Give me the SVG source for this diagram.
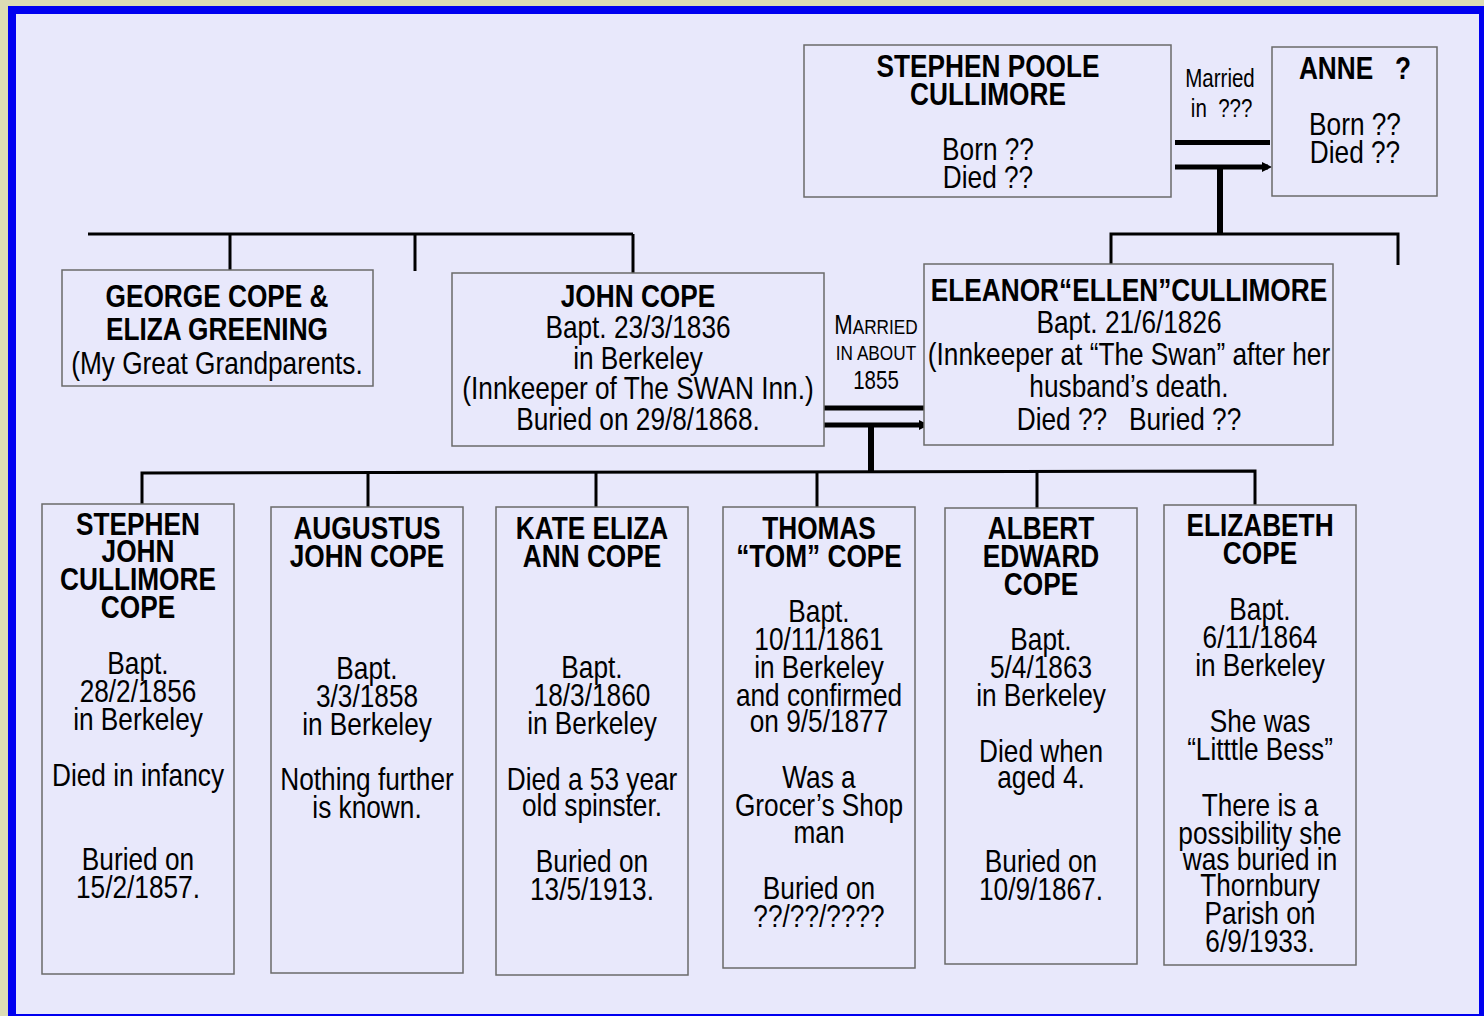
<svg xmlns="http://www.w3.org/2000/svg" width="1484" height="1016" viewBox="0 0 1484 1016">
<defs>
<style>
.box{fill:#e8e8fb;stroke:#6a6a6a;stroke-width:1.5}
text{font-family:"Liberation Sans",Arial,sans-serif;fill:#000;text-anchor:middle}
.n{font-size:32px;font-weight:bold}
.t{font-size:32px}
.s{font-size:25px}
.ln{stroke:#000;stroke-width:3;fill:none}
.mar{stroke:#000;stroke-width:5;fill:none}
.drop{stroke:#000;stroke-width:6;fill:none}
</style>
<marker id="ah" viewBox="0 0 10 10" refX="6" refY="5" markerWidth="2" markerHeight="2" orient="auto" markerUnits="strokeWidth">
<path d="M0,0 L10,5 L0,10 z" fill="#000"/>
</marker>
</defs>
<rect x="0" y="0" width="1484" height="1016" fill="#dcdcb4"/>
<rect x="12" y="10" width="1471" height="1008" fill="#e8e8fb" stroke="#0000f0" stroke-width="8"/>

<g id="connectors">
<line class="mar" x1="1175" y1="142.5" x2="1270" y2="142.5"/>
<line class="mar" x1="1175" y1="167" x2="1268" y2="167" marker-end="url(#ah)"/>
<line class="drop" x1="1220" y1="167" x2="1220" y2="233"/>
<polyline class="ln" points="1111,265 1111,234 1398,234 1398,265"/>
<line class="ln" x1="88" y1="234" x2="633" y2="234"/>
<line class="ln" x1="230" y1="234" x2="230" y2="270"/>
<line class="ln" x1="415" y1="234" x2="415" y2="271"/>
<line class="ln" x1="633" y1="234" x2="633" y2="273"/>
<line class="mar" x1="822" y1="408" x2="927" y2="408"/>
<line class="mar" x1="822" y1="425" x2="925" y2="425" marker-end="url(#ah)"/>
<line class="drop" x1="871" y1="427" x2="871" y2="473"/>
<polyline class="ln" points="142,505 142,473 1255,471 1255,505"/>
<line class="ln" x1="368" y1="473" x2="368" y2="507"/>
<line class="ln" x1="596" y1="473" x2="596" y2="508"/>
<line class="ln" x1="817" y1="472" x2="817" y2="508"/>
<line class="ln" x1="1037" y1="472" x2="1037" y2="508"/>
<g transform="translate(1220 0) scale(0.82 1)">
<text class="s" x="0" y="87">Married</text>
<text class="s" x="2" y="117" xml:space="preserve">in  ???</text>
</g>
<g transform="translate(876 0) scale(0.82 1)">
<text x="0" y="334" font-size="27">M<tspan font-size="21">ARRIED</tspan></text>
<text x="0" y="360" font-size="21">IN ABOUT</text>
<text class="s" x="0" y="389">1855</text>
</g>
</g>

<g id="stephen-poole">
<rect class="box" x="804" y="45" width="367" height="152"/>
<g transform="translate(988 0) scale(0.82 1)">
<text class="n" x="0" y="77">STEPHEN POOLE</text>
<text class="n" x="0" y="105">CULLIMORE</text>
<text class="t" x="0" y="160">Born ??</text>
<text class="t" x="0" y="188">Died ??</text>
</g>
</g>

<g id="anne">
<rect class="box" x="1272" y="47" width="165" height="149"/>
<g transform="translate(1355 0) scale(0.82 1)">
<text class="n" x="0" y="79" xml:space="preserve">ANNE   ?</text>
<text class="t" x="0" y="135">Born ??</text>
<text class="t" x="0" y="163">Died ??</text>
</g>
</g>

<g id="george">
<rect class="box" x="62" y="270" width="311" height="116"/>
<g transform="translate(217 0) scale(0.82 1)">
<text class="n" x="0" y="307">GEORGE COPE &amp;</text>
<text class="n" x="0" y="340">ELIZA GREENING</text>
<text class="t" x="0" y="374">(My Great Grandparents.</text>
</g>
</g>

<g id="john">
<rect class="box" x="452" y="273" width="372" height="173"/>
<g transform="translate(638 0) scale(0.82 1)">
<text class="n" x="0" y="307">JOHN COPE</text>
<text class="t" x="0" y="338">Bapt. 23/3/1836</text>
<text class="t" x="0" y="369">in Berkeley</text>
<text class="t" x="0" y="399">(Innkeeper of The SWAN Inn.)</text>
<text class="t" x="0" y="430">Buried on 29/8/1868.</text>
</g>
</g>

<g id="eleanor">
<rect class="box" x="924" y="264" width="409" height="181"/>
<g transform="translate(1129 0) scale(0.82 1)">
<text class="n" x="0" y="301">ELEANOR“ELLEN”CULLIMORE</text>
<text class="t" x="0" y="333">Bapt. 21/6/1826</text>
<text class="t" x="0" y="365">(Innkeeper at “The Swan” after her</text>
<text class="t" x="0" y="397">husband’s death.</text>
<text class="t" x="0" y="430" xml:space="preserve">Died ??   Buried ??</text>
</g>
</g>

<g id="child1">
<rect class="box" x="42" y="504" width="192" height="470"/>
<g transform="translate(138 0) scale(0.82 1)">
<text class="n" x="0" y="535">STEPHEN</text>
<text class="n" x="0" y="562">JOHN</text>
<text class="n" x="0" y="590">CULLIMORE</text>
<text class="n" x="0" y="618">COPE</text>
<text class="t" x="0" y="674">Bapt.</text>
<text class="t" x="0" y="702">28/2/1856</text>
<text class="t" x="0" y="730">in Berkeley</text>
<text class="t" x="0" y="786">Died in infancy</text>
<text class="t" x="0" y="870">Buried on</text>
<text class="t" x="0" y="898">15/2/1857.</text>
</g>
</g>

<g id="child2">
<rect class="box" x="271" y="507" width="192" height="466"/>
<g transform="translate(367 0) scale(0.82 1)">
<text class="n" x="0" y="539">AUGUSTUS</text>
<text class="n" x="0" y="567">JOHN COPE</text>
<text class="t" x="0" y="679">Bapt.</text>
<text class="t" x="0" y="707">3/3/1858</text>
<text class="t" x="0" y="735">in Berkeley</text>
<text class="t" x="0" y="790">Nothing further</text>
<text class="t" x="0" y="818">is known.</text>
</g>
</g>

<g id="child3">
<rect class="box" x="496" y="507" width="192" height="468"/>
<g transform="translate(592 0) scale(0.82 1)">
<text class="n" x="0" y="539">KATE ELIZA</text>
<text class="n" x="0" y="567">ANN COPE</text>
<text class="t" x="0" y="678">Bapt.</text>
<text class="t" x="0" y="706">18/3/1860</text>
<text class="t" x="0" y="734">in Berkeley</text>
<text class="t" x="0" y="790">Died a 53 year</text>
<text class="t" x="0" y="816">old spinster.</text>
<text class="t" x="0" y="872">Buried on</text>
<text class="t" x="0" y="900">13/5/1913.</text>
</g>
</g>

<g id="child4">
<rect class="box" x="723" y="507" width="192" height="461"/>
<g transform="translate(819 0) scale(0.82 1)">
<text class="n" x="0" y="539">THOMAS</text>
<text class="n" x="0" y="567">“TOM” COPE</text>
<text class="t" x="0" y="622">Bapt.</text>
<text class="t" x="0" y="650">10/11/1861</text>
<text class="t" x="0" y="678">in Berkeley</text>
<text class="t" x="0" y="706">and confirmed</text>
<text class="t" x="0" y="732">on 9/5/1877</text>
<text class="t" x="0" y="788">Was a</text>
<text class="t" x="0" y="816">Grocer’s Shop</text>
<text class="t" x="0" y="843">man</text>
<text class="t" x="0" y="899">Buried on</text>
<text class="t" x="0" y="927">??/??/????</text>
</g>
</g>

<g id="child5">
<rect class="box" x="945" y="508" width="192" height="456"/>
<g transform="translate(1041 0) scale(0.82 1)">
<text class="n" x="0" y="539">ALBERT</text>
<text class="n" x="0" y="567">EDWARD</text>
<text class="n" x="0" y="595">COPE</text>
<text class="t" x="0" y="650">Bapt.</text>
<text class="t" x="0" y="678">5/4/1863</text>
<text class="t" x="0" y="706">in Berkeley</text>
<text class="t" x="0" y="762">Died when</text>
<text class="t" x="0" y="788">aged 4.</text>
<text class="t" x="0" y="872">Buried on</text>
<text class="t" x="0" y="900">10/9/1867.</text>
</g>
</g>

<g id="child6">
<rect class="box" x="1164" y="505" width="192" height="460"/>
<g transform="translate(1260 0) scale(0.82 1)">
<text class="n" x="0" y="536">ELIZABETH</text>
<text class="n" x="0" y="564">COPE</text>
<text class="t" x="0" y="620">Bapt.</text>
<text class="t" x="0" y="648">6/11/1864</text>
<text class="t" x="0" y="676">in Berkeley</text>
<text class="t" x="0" y="732">She was</text>
<text class="t" x="0" y="760">“Litttle Bess”</text>
<text class="t" x="0" y="816">There is a</text>
<text class="t" x="0" y="844">possibility she</text>
<text class="t" x="0" y="870">was buried in</text>
<text class="t" x="0" y="896">Thornbury</text>
<text class="t" x="0" y="924">Parish on</text>
<text class="t" x="0" y="952">6/9/1933.</text>
</g>
</g>
</svg>
